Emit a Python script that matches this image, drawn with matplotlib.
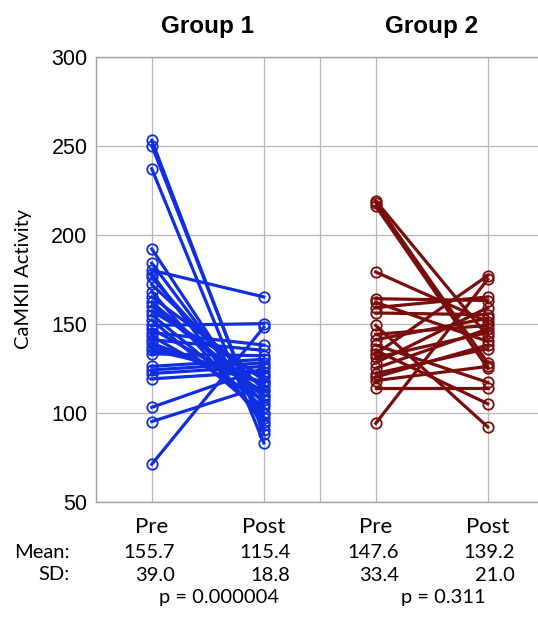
import matplotlib.pyplot as plt

# paired CaMKII activity values
g1_pre = [253, 250, 237, 192, 184, 180, 178, 176, 172, 168, 165, 162, 160, 157, 155, 152,
          149, 147, 145, 143, 141, 139, 137, 135, 133, 126, 124, 122, 119, 103, 95, 71]
g1_post = [88, 90, 83, 97, 100, 165, 93, 105, 113, 95, 118, 110, 109, 120, 103, 99,
           150, 112, 138, 107, 135, 116, 117, 121, 132, 130, 128, 126, 123, 125, 115, 148]

g2_pre = [219, 218, 216, 179, 164, 162, 159, 156, 149, 144, 141, 138, 135, 133, 131, 128,
          125, 122, 120, 118, 114, 94]
g2_post = [143, 128, 125, 151, 163, 140, 165, 155, 92, 149, 153, 117, 105, 177, 145, 159,
           147, 136, 138, 126, 114, 175]

groups = ['Group 1', 'Group 2']
conditions = ['Pre', 'Post']
means = [['155.7', '115.4'], ['147.6', '139.2']]
sds = [['39.0', '18.8'], ['33.4', '21.0']]
pvals = ['p = 0.000004', 'p = 0.311']

colors = ['#0f2ee0', '#7b0c0c']
xpos = [(1, 2), (3, 4)]

fig = plt.figure(figsize=(5.38, 6.19), dpi=100)
ax = fig.add_axes([0.178, 0.1895, 0.8327, 0.7191])

for (x0, x1), pre, post, c in zip(xpos, [g1_pre, g2_pre], [g1_post, g2_post], colors):
    for a, b in zip(pre, post):
        ax.plot([x0, x1], [a, b], color=c, lw=2.3, marker='o', ms=7.5,
                mfc='none', mec=c, mew=1.3, zorder=3)

ax.set_xlim(0.5, 4.5)
ax.set_ylim(50, 300)
ax.set_yticks([50, 100, 150, 200, 250, 300])
ax.set_xticks([1, 2, 2.5, 3, 4])
ax.set_xticklabels([])
ax.tick_params(length=0, labelsize=15.5, pad=6)
for lab in ax.get_yticklabels():
    lab.set_family('Liberation Sans')
ax.grid(True, color='#b8b8b8', lw=0.9, zorder=0)
for s in ax.spines.values():
    s.set_color('#a0a0a0')
    s.set_linewidth(1.0)

ax.set_ylabel('CaMKII Activity', fontsize=14.5, family='Lato', labelpad=14)

tr = ax.get_xaxis_transform()
for g, (x0, x1) in enumerate(xpos):
    ax.text((x0 + x1) / 2, 1.067, groups[g], transform=tr, ha='center', va='center',
            fontsize=17.5, fontweight='bold', family='Liberation Sans')
    for k, x in enumerate((x0, x1)):
        ax.text(x, -0.056, conditions[k], transform=tr, ha='center', va='center',
                fontsize=16, family='Lato')
        ax.text(x + 0.21 + 0.03 * k, -0.115, means[g][k], transform=tr, ha='right',
                va='center', fontsize=14.5, family='Lato')
        ax.text(x + 0.21 + 0.03 * k, -0.165, sds[g][k], transform=tr, ha='right',
                va='center', fontsize=14.5, family='Lato')
    ax.text(x0 + 0.6, -0.216, pvals[g], transform=tr, ha='center', va='center',
            fontsize=14.5, family='Lato')

fig.text(70 / 538, 1 - 553 / 619, 'Mean:', ha='right', va='center', fontsize=14.5, family='Lato')
fig.text(70 / 538, 1 - 575 / 619, 'SD:', ha='right', va='center', fontsize=14.5, family='Lato')

fig.savefig('out.png', dpi=100)
